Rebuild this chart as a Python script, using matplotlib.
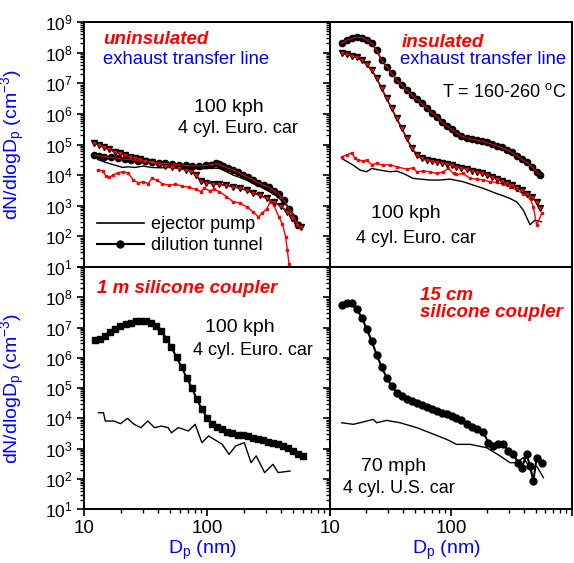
import matplotlib
matplotlib.use("Agg")
import matplotlib.pyplot as plt
from matplotlib.lines import Line2D
from matplotlib.ticker import FixedLocator, LogLocator, NullFormatter
import numpy as np

plt.rcParams['font.family'] = ['Liberation Sans', 'DejaVu Sans']
plt.rcParams['mathtext.fontset'] = 'custom'
plt.rcParams['mathtext.rm'] = 'Liberation Sans'
plt.rcParams['mathtext.default'] = 'regular'

RED = '#ff0000'
BLUE = '#0000ff'

# ---- uninsulated transfer line, 100 kph, 4 cyl. Euro car ----
ul_tun1_d = [12.1, 13.3, 14.6, 16.6, 18.9, 21.4, 24.3, 27.6, 31.3, 35.6, 40.4, 45.8, 52.0, 59.1, 67.0,
             76.1, 86.4, 98.1, 108, 119, 126, 135, 148, 163, 179, 197, 217, 238, 262, 288, 317, 349,
             384, 422, 464, 511, 551]
ul_tun1_n = [4.5e4, 4.3e4, 4.0e4, 3.8e4, 3.5e4, 3.3e4, 3.2e4, 2.9e4, 2.8e4, 2.66e4, 2.5e4, 2.4e4, 2.3e4,
             2.2e4, 2.07e4, 2.0e4, 2.0e4, 2.07e4, 2.2e4, 2.4e4, 2.3e4, 1.97e4, 1.7e4, 1.46e4, 1.25e4,
             1.03e4, 8.4e3, 6.9e3, 5.6e3, 4.7e3, 4.0e3, 3.1e3, 2.4e3, 1.52e3, 8.1e2, 4.1e2, 2.3e2]
ul_tun2_d = [12.1, 13.3, 14.6, 16.1, 17.7, 19.5, 21.4, 23.5, 25.9, 28.5, 31.3, 35.6, 40.4, 45.8, 52.0,
             59.1, 67.0, 73.8, 81.1, 89.2, 98.1, 111, 126, 144, 163, 185, 210, 238, 271, 307, 349, 396,
             450, 494, 544, 579]
ul_tun2_n = [1.14e5, 9.6e4, 8.0e4, 6.9e4, 5.8e4, 5.1e4, 4.5e4, 4.0e4, 3.6e4, 3.25e4, 2.9e4, 2.6e4, 2.3e4,
             2.0e4, 1.82e4, 1.65e4, 1.49e4, 1.35e4, 1.0e4, 6.5e3, 5.6e3, 5.3e3, 5.0e3, 4.6e3, 4.2e3,
             3.7e3, 3.2e3, 2.6e3, 2.2e3, 1.73e3, 1.35e3, 9.7e2, 6.3e2, 4.1e2, 2.3e2, 2.05e2]
ul_ej_d = [12.9, 14.6, 16.6, 18.9, 20.7, 22.8, 25.9, 30.3, 35.6, 43.0, 52.0, 62.9, 76.1, 92.1, 111, 126,
           144, 163, 185, 210, 238, 271, 307, 349, 396, 450, 511, 561]
ul_ej_n = [3.25e4, 2.7e4, 2.3e4, 1.97e4, 1.78e4, 1.87e4, 1.78e4, 1.97e4, 1.78e4, 1.73e4, 1.78e4, 1.65e4,
           1.61e4, 1.61e4, 1.7e4, 1.65e4, 1.29e4, 1.0e4, 8.4e3, 6.9e3, 5.3e3, 4.2e3, 3.2e3, 2.4e3,
           1.6e3, 9.7e2, 4.9e2, 2.3e2]
ul_ej2_d = [12.9, 14.2, 15.1, 16.1, 17.1, 18.9, 20.7, 22.8, 25.1, 27.6, 30.3, 33.4, 35.6, 39.1, 43.0, 48.8,
            55.4, 62.9, 71.5, 81.1, 89.2, 95.1, 105, 115, 126, 144, 163, 185, 210, 238, 262, 279, 307,
            327, 349, 384, 409, 436, 450, 464, 479]
ul_ej2_n = [1.46e4, 1.39e4, 9.3e3, 8.4e3, 1.0e4, 1.19e4, 1.29e4, 1.19e4, 6.9e3, 5.6e3, 6.1e3, 5.3e3,
            7.8e3, 6.9e3, 5.3e3, 4.7e3, 5.0e3, 4.4e3, 4.0e3, 3.4e3, 2.9e3, 3.7e3, 3.1e3, 3.4e3, 2.9e3,
            2.0e3, 1.35e3, 1.25e3, 9.2e2, 6.3e2, 4.3e2, 5.6e2, 8.1e2, 1.35e3, 1.05e3, 4.3e2, 2.6e2,
            97, 35, 13, 7.9]

# ---- insulated transfer line, T = 160-260 C ----
ins_d = [12.5, 13.7, 15.1, 16.6, 18.3, 20.1, 22.1, 24.3, 26.7, 29.4, 32.3, 35.6, 39.1, 43.0, 47.3, 52.0,
         57.2, 62.9, 69.2, 76.1, 83.7, 92.1, 101, 111, 122, 135, 148, 163, 179, 197, 217, 238, 262, 288,
         317, 349, 384, 422, 464, 511, 544]
ins_tun1_n = [2.0e8, 2.6e8, 2.9e8, 3.2e8, 3.1e8, 2.6e8, 2.0e8, 1.2e8, 5.7e7, 3.5e7, 2.1e7, 1.3e7, 8.7e6,
              6.0e6, 4.1e6, 3.0e6, 2.2e6, 1.6e6, 1.1e6, 8.1e5, 5.5e5, 4.1e5, 3.1e5, 2.4e5, 1.9e5,
              1.66e5, 1.5e5, 1.39e5, 1.29e5, 1.17e5, 1.03e5, 9.1e4, 8.0e4, 6.7e4, 5.5e4, 4.3e4, 3.3e4,
              2.6e4, 1.9e4, 1.3e4, 1.0e4]
ins_tun2_n = [9.5e7, 8.8e7, 7.9e7, 7.0e7, 5.7e7, 4.1e7, 2.7e7, 1.44e7, 6.8e6, 3.2e6, 1.5e6, 7.1e5, 3.4e5,
              1.6e5, 7.8e4, 4.7e4, 3.5e4, 3.1e4, 2.9e4, 2.7e4, 2.5e4, 2.3e4, 2.1e4, 1.9e4, 1.7e4, 1.6e4,
              1.4e4, 1.3e4, 1.16e4, 1.03e4, 8.8e3, 7.6e3, 6.5e3, 5.6e3, 4.7e3, 3.9e3, 3.2e3, 2.5e3,
              2.0e3, 1.3e3, 8.6e2]
ins_ej_d = [12.5, 15.6, 17.7, 20.1, 22.1, 25.9, 31.3, 35.6, 40.4, 48.8, 67.0, 81.1, 98.1, 126, 153, 185,
            238, 271, 307, 349, 396, 450, 494, 561]
ins_ej_n = [3.5e4, 2.1e4, 1.46e4, 1.29e4, 1.65e4, 1.46e4, 1.29e4, 1.35e4, 1.13e4, 7.8e3, 6.9e3, 6.9e3,
            7.4e3, 6.1e3, 4.7e3, 3.7e3, 2.5e3, 2.1e3, 1.73e3, 1.34e3, 7.2e2, 2.4e2, 3.4e2, 3.0e2]
ins_ej2_d = [12.5, 13.7, 15.1, 16.1, 17.1, 18.9, 20.1, 22.1, 24.3, 27.6, 31.3, 35.6, 43.0, 48.8, 52.0,
             59.1, 67.0, 76.1, 86.4, 95.1, 105, 111, 126, 144, 163, 185, 210, 238, 271, 307, 349, 396,
             450, 479, 511, 561]
ins_ej2_n = [4.0e4, 4.5e4, 5.4e4, 3.5e4, 3.1e4, 2.9e4, 3.1e4, 2.2e4, 2.4e4, 2.1e4, 2.2e4, 1.87e4,
             1.57e4, 1.74e4, 1.29e4, 1.35e4, 1.29e4, 1.13e4, 1.29e4, 1.65e4, 1.13e4, 1.05e4, 1.13e4,
             7.8e3, 7.4e3, 6.9e3, 6.1e3, 5.8e3, 5.0e3, 4.2e3, 3.2e3, 2.5e3, 1.73e3, 9.2e2, 2.3e2, 5.6e2]

# ---- 1 m silicone coupler ----
sc1_tun_d = [12.3, 13.6, 14.9, 16.4, 18.0, 19.8, 21.8, 24.0, 26.4, 29.0, 31.9, 35.1, 38.6, 42.5, 46.7,
             51.4, 56.5, 62.1, 68.3, 75.2, 82.7, 90.9, 100, 110, 121, 133, 146, 161, 177, 195, 214, 235,
             259, 285, 313, 344, 379, 417, 458, 504, 554, 602]
sc1_tun_n = [4.0e6, 4.3e6, 5.2e6, 7.2e6, 9.2e6, 1.16e7, 1.32e7, 1.46e7, 1.6e7, 1.7e7, 1.6e7, 1.42e7,
             1.1e7, 7.5e6, 4.3e6, 2.2e6, 1.05e6, 4.9e5, 2.2e5, 1.02e5, 4.2e4, 2.0e4, 1.04e4, 6.6e3,
             5.1e3, 4.3e3, 3.6e3, 3.25e3, 2.9e3, 2.7e3, 2.5e3, 2.3e3, 2.06e3, 1.86e3, 1.68e3, 1.52e3,
             1.37e3, 1.18e3, 1.01e3, 8.3e2, 6.8e2, 5.7e2]
sc1_ej_d = [13.1, 14.4, 14.9, 17.5, 19.8, 22.5, 25.6, 29.0, 33.0, 37.4, 42.5, 48.2, 51.4, 58.3, 70.6,
            80.1, 90.9, 103, 133, 151, 171, 201, 228, 251, 294, 344, 379, 473]
sc1_ej_n = [1.52e4, 1.52e4, 8.1e3, 8.1e3, 6.6e3, 9.9e3, 6.3e3, 4.9e3, 8.1e3, 4.9e3, 5.5e3, 4.9e3, 3.3e3,
            4.9e3, 3.8e3, 6.3e3, 1.56e3, 2.6e3, 1.37e3, 6.4e2, 1.21e3, 1.56e3, 3.4e2, 5.7e2, 1.6e2,
            3.0e2, 1.6e2, 1.8e2]

# ---- 15 cm silicone coupler, 70 mph, 4 cyl. U.S. car ----
sc15_tun_d = [12.5, 13.7, 15.1, 16.6, 18.3, 20.1, 22.1, 24.3, 26.7, 29.4, 32.3, 35.6, 39.1, 43.0, 47.3,
              52.0, 57.2, 62.9, 69.2, 76.1, 83.7, 92.1, 101, 111, 122, 135, 148, 163, 185, 203, 224,
              246, 271, 298, 327, 360, 384, 422, 450, 479, 511, 561]
sc15_tun_n = [5.4e7, 6.3e7, 6.3e7, 4.2e7, 2.1e7, 9.2e6, 3.5e6, 1.28e6, 4.9e5, 2.2e5, 1.16e5, 7.0e4,
              5.3e4, 4.4e4, 3.7e4, 3.2e4, 2.7e4, 2.3e4, 2.0e4, 1.73e4, 1.49e4, 1.34e4, 1.18e4, 1.04e4,
              8.5e3, 6.3e3, 5.1e3, 4.3e3, 3.6e3, 1.56e3, 1.21e3, 1.44e3, 1.37e3, 8.3e2, 6.4e2, 3.4e2,
              2.3e2, 6.4e2, 2.6e2, 85, 5.0e2, 3.4e2]
sc15_ej_d = [12.5, 15.6, 17.7, 22.8, 24.3, 29.4, 37.9, 52.0, 67.0, 92.1, 111, 144, 197, 254, 307, 349,
             396, 450, 511, 580]
sc15_ej_n = [7.1e3, 6.3e3, 7.1e3, 9.2e3, 7.1e3, 8.5e3, 7.1e3, 4.9e3, 3.3e3, 2.0e3, 1.37e3, 1.37e3,
             1.06e3, 5.7e2, 3.4e2, 3.4e2, 5.0e2, 2.3e2, 2.6e2, 1.09e2]

fig = plt.figure(figsize=(5.74, 5.63), dpi=100)
W, H = 574.0, 563.0


def box(x0, y0, x1, y1):
    return [x0 / W, 1 - y1 / H, (x1 - x0) / W, (y1 - y0) / H]


ax_tl = fig.add_axes(box(84, 22, 330, 267))
ax_tr = fig.add_axes(box(330, 22, 572, 267))
ax_bl = fig.add_axes(box(84, 267, 330, 509))
ax_br = fig.add_axes(box(330, 267, 572, 509))

for ax in (ax_tl, ax_tr, ax_bl, ax_br):
    ax.set_xscale('log')
    ax.set_yscale('log')
    ax.set_xlim(10, 1000)
    ax.set_ylim(10, 1e9)
    ax.xaxis.set_major_locator(FixedLocator([10, 100, 1000]))
    ax.xaxis.set_minor_locator(LogLocator(base=10, subs=np.arange(2, 10), numticks=20))
    ax.yaxis.set_major_locator(FixedLocator([10.0 ** k for k in range(1, 10)]))
    ax.yaxis.set_minor_locator(LogLocator(base=10, subs=np.arange(2, 10), numticks=30))
    ax.xaxis.set_minor_formatter(NullFormatter())
    ax.yaxis.set_minor_formatter(NullFormatter())
    ax.tick_params(which='major', direction='out', length=5, width=1.2)
    ax.tick_params(which='minor', direction='out', length=3, width=1.0)
    ax.tick_params(axis='y', labelsize=12.5, pad=3)
    ax.tick_params(axis='x', labelsize=13.5, pad=3)
    for s in ax.spines.values():
        s.set_linewidth(1.4)

for ax in (ax_tl, ax_tr):
    ax.tick_params(axis='x', labelbottom=False)
for ax in (ax_tr, ax_br):
    ax.tick_params(axis='y', labelleft=False)
for ax in (ax_bl, ax_br):
    ax.set_yticks([10.0 ** k for k in range(1, 10)])
    ax.set_yticklabels(['$10^{%d}$' % k for k in range(1, 9)] + [''])
    ax.set_xticks([10, 100, 1000])
    ax.set_xticklabels(['10', '100', ''])
    ax.set_xlabel('D$_p$ (nm)', color=BLUE, fontsize=14)
    ax.xaxis.set_label_coords(0.48, -0.125)
ax_tl.set_yticks([10.0 ** k for k in range(1, 10)])
ax_tl.set_yticklabels(['$10^{%d}$' % k for k in range(1, 10)])

for ax in (ax_tl, ax_bl):
    ax.set_ylabel('dN/dlogD$_p$ (cm$^{-3}$)', color=BLUE, fontsize=14)
    ax.yaxis.set_label_coords(-0.23, 0.5)


def tunnel_circles(ax, d, n, ms=4.5):
    ax.plot(d, n, '-o', color='black', lw=1.2, ms=ms, mec='black', mfc='black', zorder=3)
    ax.plot(d, n, '-', color=RED, lw=0.7, zorder=4)


def tunnel_triangles(ax, d, n):
    ax.plot(d, n, '-v', color='black', lw=1.2, ms=5, zorder=3)
    ax.plot(d, n, 'v', color=RED, ms=1.6, zorder=4)
    ax.plot(d, n, '-', color=RED, lw=0.5, zorder=4)


# top left
ax_tl.plot(ul_ej2_d, ul_ej2_n, '-s', color=RED, lw=1.0, ms=1.8, zorder=2)
ax_tl.plot(ul_ej_d, ul_ej_n, '-', color='black', lw=1.0, zorder=2)
tunnel_circles(ax_tl, ul_tun1_d, ul_tun1_n)
tunnel_triangles(ax_tl, ul_tun2_d, ul_tun2_n)

# top right
ax_tr.plot(ins_ej_d, ins_ej_n, '-', color='black', lw=1.0, zorder=2)
ax_tr.plot(ins_ej2_d, ins_ej2_n, '-s', color=RED, lw=1.0, ms=1.8, zorder=2)
tunnel_circles(ax_tr, ins_d, ins_tun1_n)
tunnel_triangles(ax_tr, ins_d, ins_tun2_n)

# bottom left
ax_bl.plot(sc1_ej_d, sc1_ej_n, '-', color='black', lw=1.0)
ax_bl.plot(sc1_tun_d, sc1_tun_n, '-s', color='black', lw=1.5, ms=4)

# bottom right
ax_br.plot(sc15_ej_d, sc15_ej_n, '-', color='black', lw=1.0)
ax_br.plot(sc15_tun_d, sc15_tun_n, '-o', color='black', lw=1.5, ms=5)

# legend
handles = [Line2D([], [], color='black', lw=1.2),
           Line2D([], [], color='black', lw=1.5, marker='o', ms=5)]
ax_tl.legend(handles, ['ejector pump', 'dilution tunnel'], loc='lower left',
             bbox_to_anchor=(0.0, 0.0), frameon=False, fontsize=13, handlelength=2.6,
             handletextpad=0.4, labelspacing=0.25, borderaxespad=0.3)

# annotations
ax_tl.text(0.077, 0.927, 'uninsulated', transform=ax_tl.transAxes, color=RED, fontsize=13.5,
           fontweight='bold', fontstyle='italic', va='center')
ax_tl.text(0.077, 0.845, 'exhaust transfer line', transform=ax_tl.transAxes, color=BLUE,
           fontsize=13.3, va='center')
ax_tl.text(0.59, 0.653, '100 kph', transform=ax_tl.transAxes, fontsize=14, ha='center', va='center')
ax_tl.text(0.382, 0.567, '4 cyl. Euro. car', transform=ax_tl.transAxes, fontsize=13, va='center')

ax_tr.text(0.298, 0.918, 'insulated', transform=ax_tr.transAxes, color=RED, fontsize=13.5,
           fontweight='bold', fontstyle='italic', va='center')
ax_tr.text(0.289, 0.845, 'exhaust transfer line', transform=ax_tr.transAxes, color=BLUE,
           fontsize=13.3, va='center')
ax_tr.text(0.979, 0.714, 'T = 160-260 $^{o}$C', transform=ax_tr.transAxes, fontsize=13,
           ha='right', va='center')
ax_tr.text(0.314, 0.22, '100 kph', transform=ax_tr.transAxes, fontsize=14, ha='center', va='center')
ax_tr.text(0.107, 0.118, '4 cyl. Euro. car', transform=ax_tr.transAxes, fontsize=13, va='center')

ax_bl.text(0.053, 0.913, '1 m silicone coupler', transform=ax_bl.transAxes, color=RED,
           fontsize=13.5, fontweight='bold', fontstyle='italic', va='center')
ax_bl.text(0.634, 0.748, '100 kph', transform=ax_bl.transAxes, fontsize=14, ha='center', va='center')
ax_bl.text(0.443, 0.653, '4 cyl. Euro. car', transform=ax_bl.transAxes, fontsize=13, va='center')

ax_br.text(0.372, 0.884, '15 cm', transform=ax_br.transAxes, color=RED, fontsize=13.5,
           fontweight='bold', fontstyle='italic', va='center')
ax_br.text(0.372, 0.814, 'silicone coupler', transform=ax_br.transAxes, color=RED, fontsize=13.5,
           fontweight='bold', fontstyle='italic', va='center')
ax_br.text(0.264, 0.174, '70 mph', transform=ax_br.transAxes, fontsize=14, ha='center', va='center')
ax_br.text(0.054, 0.083, '4 cyl. U.S. car', transform=ax_br.transAxes, fontsize=13, va='center')

fig.savefig('out.png', dpi=100)
